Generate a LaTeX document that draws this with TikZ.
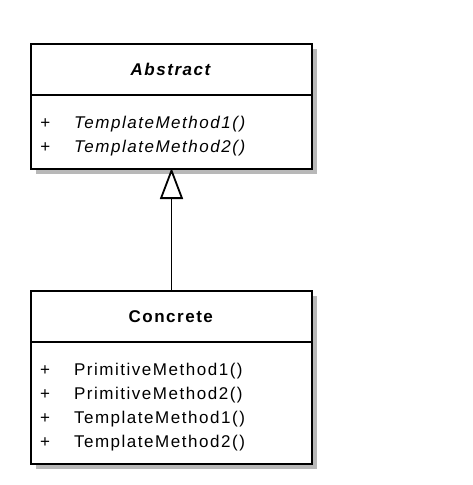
\documentclass[tikz,border=0pt]{standalone}
\usepackage{fontspec}
\setmainfont{Liberation Sans}[LetterSpace=9]
\usepackage{tikz}
\pgfdeclarelayer{background}
\pgfdeclarelayer{main}
\pgfsetlayers{background,main}
\usetikzlibrary{arrows.meta, positioning}
\definecolor{shadowgray}{HTML}{B8B8B8}

\newcommand{\umlop}[1]{\makebox[34pt][l]{+}#1}

\begin{document}
\begin{tikzpicture}[
    x=1pt, y=-1pt,
    every node/.style={font=\fontsize{17}{24}\selectfont},
    classtitle/.style={
        rectangle,
        draw=black,
        fill=white,
        line width=1.8pt,
        outer sep=0pt,
        minimum width=281pt,
        minimum height=51pt,
        inner sep=0pt
    },
    classbody/.style={
        rectangle,
        draw=black,
        fill=white,
        line width=1.8pt,
        outer sep=0pt,
        text width=263pt,
        inner xsep=9pt,
        inner ysep=4pt,
        align=left
    },
    shadowbox/.style={fill=shadowgray},
    inherit/.style={-{Triangle[open, width=23pt, length=31pt, line width=1.8pt]}, line width=1.8pt}
]

\useasboundingbox (0,0) rectangle (473,485);

% CLASSES
\node[classtitle] (abstitle) at (171.5,69.5) {\textbf{\textit{Abstract}}};
\node[classbody, below=0pt of abstitle] (absbody) {\rule{0pt}{29pt}\itshape\umlop{TemplateMethod1()}\\
    \umlop{TemplateMethod2()}\rule[-13pt]{0pt}{0pt}};

\node[classtitle] (contitle) at (171.5,316.5) {\textbf{Concrete}};
\node[classbody, below=0pt of contitle] (conbody) {\rule{0pt}{29pt}\umlop{PrimitiveMethod1()}\\
    \umlop{PrimitiveMethod2()}\\
    \umlop{TemplateMethod1()}\\
    \umlop{TemplateMethod2()}\rule[-13pt]{0pt}{0pt}};

% GENERALIZATION
\draw[inherit] (contitle.north) -- ([yshift=1pt]absbody.south);

% SHADOWS
\begin{pgfonlayer}{background}
    \fill[shadowbox] ([shift={(5,5)}]abstitle.north west) rectangle ([shift={(5,5)}]absbody.south east);
    \fill[shadowbox] ([shift={(5,5)}]contitle.north west) rectangle ([shift={(5,5)}]conbody.south east);
\end{pgfonlayer}

\end{tikzpicture}
\end{document}
